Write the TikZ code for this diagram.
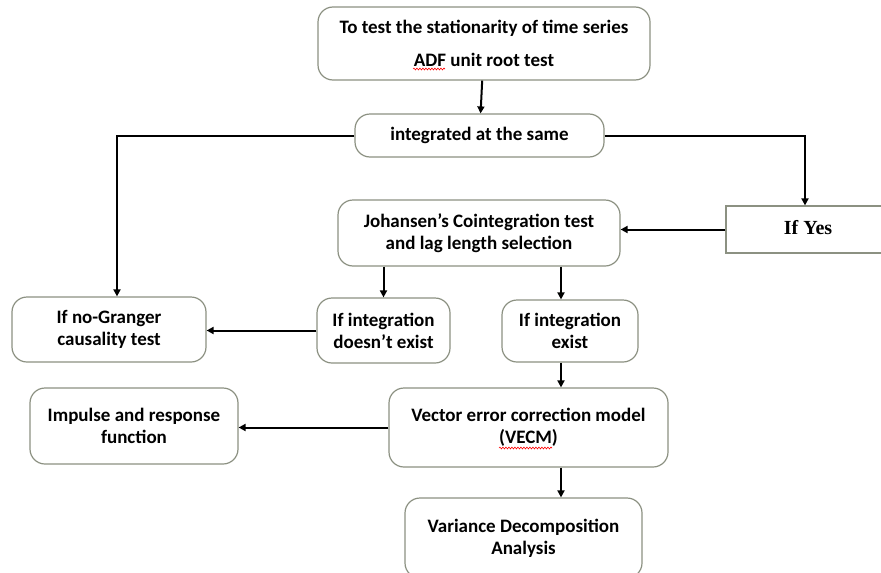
\documentclass[tikz,border=0pt]{standalone}
\usepackage{fontspec}
\setmainfont{Carlito}
\newfontfamily\yesfont{Liberation Serif}
\usepackage{tikz}
\usetikzlibrary{arrows.meta}
\usetikzlibrary{decorations.pathmorphing}

\definecolor{BoxGray}{RGB}{140,145,130}

\tikzset{
  box/.style={draw=BoxGray, rounded corners=15pt, line width=1.2pt, fill=white,
    align=center, inner sep=0pt, font=\bfseries\fontsize{19}{22}\selectfont},
  yesbox/.style={draw=BoxGray, line width=1.2pt, fill=white, align=center,
    inner sep=0pt, font=\yesfont\bfseries\fontsize{20}{22}\selectfont},
  arr/.style={-{Triangle[length=7pt,width=7pt]}, line width=2pt},
  squiggle/.style={red, line width=0.6pt, decorate,
    decoration={snake, amplitude=0.9pt, segment length=3pt}}
}

\begin{document}
\begin{tikzpicture}[x=1pt,y=-1pt]
        \useasboundingbox (0,0) rectangle (881,573);
        \clip (0,0) rectangle (881,573);

        % boxes
        \node[box, minimum width=332pt, minimum height=73pt] (stat) at (484,43.5)
            {To test the stationarity of time series\\[11pt]ADF unit root test};
        \node[box, minimum width=249pt, minimum height=43pt] (same) at (479.5,135.5)
            {integrated at the same};
        \node[yesbox, minimum width=164pt, minimum height=47pt] (yes) at (808,229.5)
            {\raisebox{4pt}{If Yes}};
        \node[box, minimum width=282pt, minimum height=66pt] (joh) at (479,233)
            {Johansen's Cointegration test\\and lag length selection};
        \node[box, minimum width=194pt, minimum height=65pt] (nog) at (109,329.5)
            {If no-Granger\\causality test};
        \node[box, minimum width=133pt, minimum height=65pt] (dne) at (383.5,330.5)
            {If integration\\doesn't exist};
        \node[box, minimum width=136pt, minimum height=62pt] (ex) at (570,331)
            {If integration\\exist};
        \node[box, minimum width=279pt, minimum height=79pt] (vecm) at (528.5,427.5)
            {Vector error correction model\\(VECM)};
        \node[box, minimum width=208pt, minimum height=76pt] (imp) at (134,426)
            {Impulse and response\\function};
        \node[box, minimum width=237pt, minimum height=80pt] (var) at (523.5,538)
            {Variance Decomposition\\Analysis};

        \coordinate (col) at (561,0);

        % connectors
        \draw[arr] (stat) -- (same);
        \draw[arr] (same.west) -| ([xshift=8pt]nog.north);
        \draw[arr] (same.east) -| ([xshift=-3pt]yes.north);
        \draw[arr] (yes.west) -- (yes.west -| joh.east);
        \draw[arr] (joh.south -| dne.north) -- (dne.north);
        \draw[arr] (joh.south -| col) -- (ex.north -| col);
        \draw[arr] (dne.west) -- (dne.west -| nog.east);
        \draw[arr] (ex.south -| col) -- (vecm.north -| col);
        \draw[arr] (vecm.west) -- (vecm.west -| imp.east);
        \draw[arr] (vecm.south -| col) -- (var.north -| col);

        % spell-check marks
        \draw[squiggle] (413,69) -- (445,69);
        \draw[squiggle] (499,448) -- (552,448);
\end{tikzpicture}
\end{document}
